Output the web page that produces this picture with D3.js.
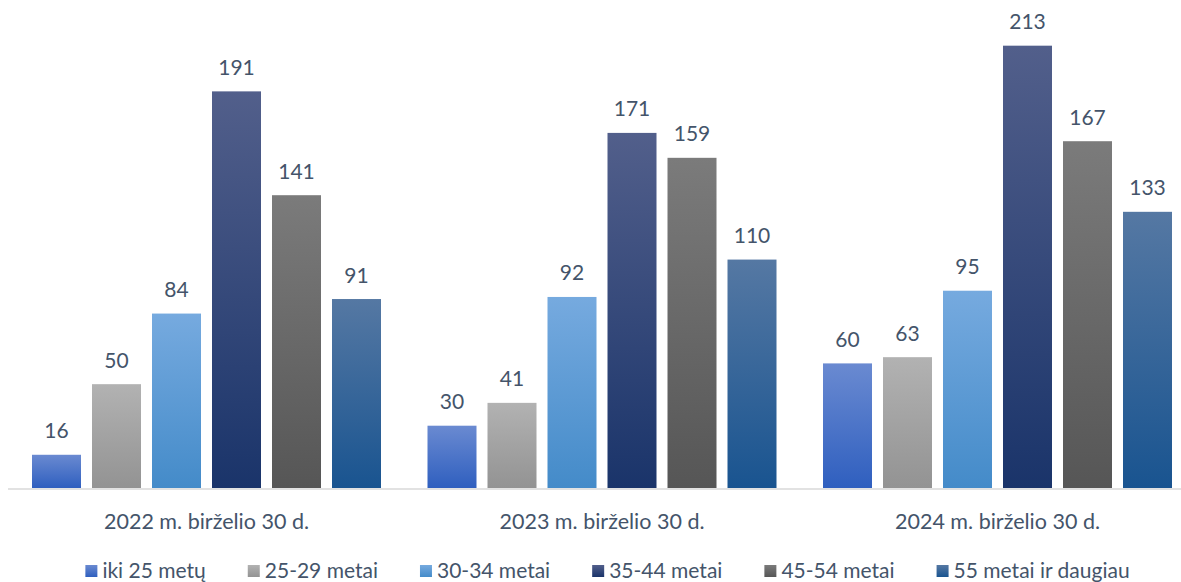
<!DOCTYPE html>
<html><head><meta charset="utf-8">
<script src="https://cdn.jsdelivr.net/npm/d3@7"></script>
<style>html,body{margin:0;padding:0;background:#fff;}svg{display:block;}</style>
</head><body>
<svg id="c" width="1181" height="582"></svg>
<script>
const categories = ["2022 m. birželio 30 d.", "2023 m. birželio 30 d.", "2024 m. birželio 30 d."];
const seriesNames = ["iki 25 metų", "25-29 metai", "30-34 metai", "35-44 metai", "45-54 metai", "55 metai ir daugiau"];
const values2022 = [16, 50, 84, 191, 141, 91];
const values2023 = [30, 41, 92, 171, 159, 110];
const values2024 = [60, 63, 95, 213, 167, 133];
const seriesTop = ["#6a8ad1", "#b2b2b2", "#76aadf", "#525f8b", "#7b7b7b", "#5578a3"];
const seriesBottom = ["#2f5fbf", "#939393", "#448bc9", "#1a346a", "#565656", "#195490"];

const data = [values2022, values2023, values2024];
const svg = d3.select("#c");
const font = "Lato, 'Open Sans', sans-serif";
const textColor = "#44546a";

const x0 = d3.scaleBand().domain(categories).range([8.75, 1195.25]).padding(0);
const x1 = d3.scaleBand().domain(seriesNames).range([23.25, 372.25]).paddingInner(11/60).paddingOuter(0);
const y = d3.scaleLinear().domain([0, 235]).range([488, 0]);

const defs = svg.append("defs");
seriesNames.forEach((s, i) => {
  const g = defs.append("linearGradient").attr("id", "g" + i)
    .attr("x1", 0).attr("y1", 0).attr("x2", 0).attr("y2", 1);
  g.append("stop").attr("offset", "0%").attr("stop-color", seriesTop[i]);
  g.append("stop").attr("offset", "100%").attr("stop-color", seriesBottom[i]);
});

const groups = svg.selectAll("g.grp").data(categories).enter().append("g")
  .attr("class", "grp").attr("transform", d => `translate(${x0(d)},0)`);

groups.each(function(cat, ci) {
  const g = d3.select(this);
  const rows = seriesNames.map((s, si) => ({s, si, v: data[ci][si]}));
  g.selectAll("rect").data(rows).enter().append("rect")
    .attr("x", d => x1(d.s)).attr("width", x1.bandwidth())
    .attr("y", d => y(d.v)).attr("height", d => y(0) - y(d.v))
    .attr("fill", d => `url(#g${d.si})`);
  g.selectAll("text.v").data(rows).enter().append("text").attr("class", "v")
    .attr("x", d => x1(d.s) + x1.bandwidth()/2).attr("y", d => y(d.v) - 16.5)
    .attr("text-anchor", "middle").attr("font-family", font).attr("font-size", 21)
    .attr("fill", textColor).text(d => d.v);
});

svg.append("line").attr("x1", 8).attr("x2", 1181).attr("y1", 489).attr("y2", 489)
  .attr("stroke", "#d9d9d9").attr("stroke-width", 1.5);

svg.selectAll("text.cat").data(categories).enter().append("text").attr("class", "cat")
  .attr("x", d => x0(d) + x0.bandwidth()/2).attr("y", 528.5)
  .attr("text-anchor", "middle").attr("font-family", font).attr("font-size", 21.5)
  .attr("fill", textColor).text(d => d);

// legend
const lg = svg.append("g");
const items = seriesNames.map((s, i) => {
  const it = lg.append("g");
  it.append("rect").attr("width", 12).attr("height", 12).attr("y", 565)
    .attr("fill", `url(#g${i})`);
  const t = it.append("text").attr("x", 17).attr("y", 577.5).attr("font-family", font)
    .attr("font-size", 21).attr("fill", textColor).text(s);
  return {it, w: 17 + t.node().getComputedTextLength()};
});
const gap = 42;
const total = d3.sum(items, d => d.w) + gap * (items.length - 1);
let cx = 607.5 - total / 2;
items.forEach(d => { d.it.attr("transform", `translate(${cx},0)`); cx += d.w + gap; });
</script>
</body></html>
